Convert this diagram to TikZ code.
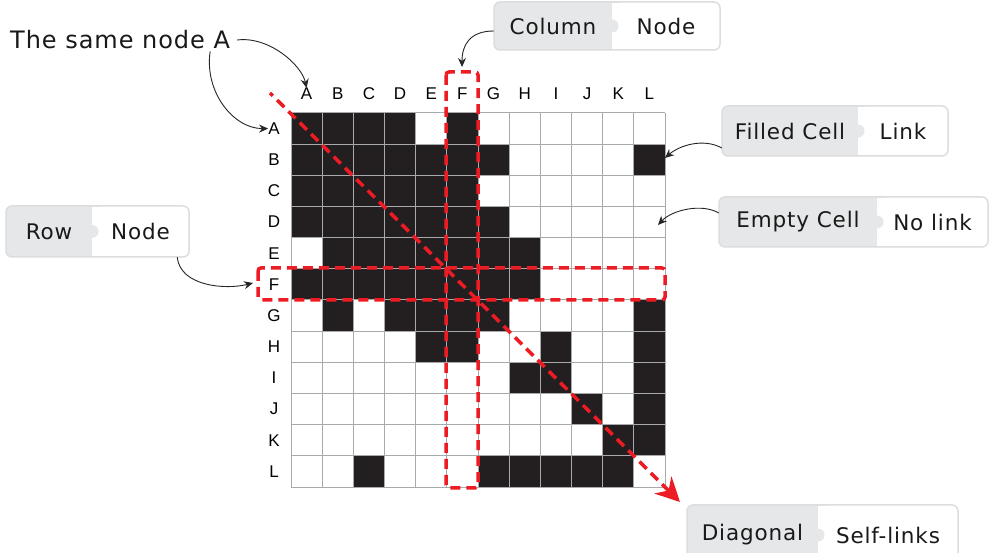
\documentclass[tikz,border=0pt]{standalone}
\usepackage{fontspec}
\setmainfont{Liberation Sans}
\newfontfamily\handfont[LetterSpace=4]{DejaVu Sans}
\usetikzlibrary{arrows.meta}
\definecolor{cellblack}{HTML}{231F20}
\definecolor{gridgray}{HTML}{A7A9AC}
\definecolor{hlred}{HTML}{ED1C24}
\definecolor{calloutgray}{HTML}{E6E7E8}
\definecolor{calloutborder}{HTML}{DCDDDE}
\tikzset{
  hl/.style={draw=hlred, line width=3.5pt, dash pattern=on 10pt off 6pt},
  hdr/.style={font=\fontsize{17}{19}\selectfont, inner sep=0pt},
  handtext/.style={font=\handfont\fontsize{21.5}{25}\selectfont, inner sep=0pt, text=black!90},
  bighand/.style={font=\handfont\fontsize{24}{28}\selectfont, inner sep=0pt, text=black!90},
  conn/.style={draw=black!85, line width=0.9pt, -{Stealth[length=9pt,width=8pt]}},
  cellfill/.style={fill=cellblack},
  gridline/.style={draw=gridgray, line width=1pt}
}
% name, x0, y0, x1, y1, xm, left text, right text
\newcommand\mycallout[8]{%
  \fill[white,rounded corners=6pt] (#2,#3) rectangle (#4,#5);
  \fill[calloutgray,rounded corners=6pt] (#2,#3) rectangle (#6+12,#5);
  \fill[white] (#6,#3+1) rectangle (#6+13,#5-1);
  \fill[calloutgray] (#6,{(#3+#5)/2}) circle (6.5);
  \draw[calloutborder,line width=1.5pt,rounded corners=6pt] (#2,#3) rectangle (#4,#5);
  \node[inner sep=0pt, minimum width={#4-#2}, minimum height={#5-#3}] (#1) at ({(#2+#4)/2},{(#3+#5)/2}) {};
  \node[handtext] (#1-l) at ({(#2+#6)/2},{(#3+#5)/2}) {#7};
  \node[handtext] (#1-r) at ({(#6+#4)/2},{(#3+#5)/2}) {#8};
}
\begin{document}
\begin{tikzpicture}[x=1pt,y=-1pt]
\useasboundingbox (0,0) rectangle (989,553);
\fill[white] (0,0) rectangle (989,553);
\def\cs{31.1667}
% filled cells
\foreach \r/\cols in {0/{0,1,2,3,5}, 1/{0,1,2,3,4,5,6,11}, 2/{0,1,2,3,4,5},
  3/{0,1,2,3,4,5,6}, 4/{1,2,3,4,5,6,7}, 5/{0,1,2,3,4,5,6,7}, 6/{1,3,4,5,6,11},
  7/{4,5,8,11}, 8/{7,8,11}, 9/{9,11}, 10/{10,11}, 11/{2,6,7,8,9,10}}{
  \foreach \c in \cols {
    \fill[cellfill] ({291+\c*\cs},{113+\r*\cs}) rectangle +(\cs,\cs);
  }
}
% grid
\foreach \i in {0,...,12}{
  \draw[gridline] ({291+\i*\cs},113) -- ({291+\i*\cs},487);
  \draw[gridline] (291,{113+\i*\cs}) -- (665,{113+\i*\cs});
}
% headers
\foreach \l [count=\i from 0] in {A,B,C,D,E,F,G,H,I,J,K,L}{
  \node[hdr] (h\l) at ({291+(\i+0.5)*\cs},94) {\l};
  \node[hdr] (r\l) at (274,{113+(\i+0.5)*\cs}) {\l};
}
% red highlights
\draw[hl, rounded corners=3pt] (446,72) rectangle (478,488);
\draw[hl, rounded corners=3pt] (258,268) rectangle (665,300);
\coordinate (diagStart) at (270,93);
\coordinate (diagEnd) at (680,502);
\draw[hl, dash phase=6pt, -{Stealth[length=24pt,width=24pt]}] (diagStart) -- (diagEnd);
\coordinate (colTop) at (462,67);
\coordinate (rowLeft) at (253,283);
\coordinate (cellBL) at (665,158);
\coordinate (cellDL) at (658,225);
% callouts
\mycallout{colbox}{494}{2}{720}{50}{612}{Column}{Node}
\mycallout{filledbox}{722}{106}{948}{156}{858}{Filled Cell}{Link}
\mycallout{emptybox}{719}{197}{988}{247}{877}{Empty Cell}{No link}
\mycallout{rowbox}{6}{206}{189}{257}{92}{Row}{Node}
\mycallout{diagbox}{687}{505}{958}{565}{818}{Diagonal}{Self-links}
\node[bighand, anchor=west] (same) at (10,40) {The same node A};
% connectors
\draw[conn] ([xshift=7pt]same.east) .. controls +(32,-4) and +(-5,-23) .. (hA.north);
\draw[conn] ([xshift=-20pt,yshift=-2pt]same.south east) .. controls +(-6,40) and +(-35,0) .. (rA.west);
\draw[conn] ([yshift=-5pt]colbox.west) .. controls +(-24,0) and +(0,-22) .. (colTop);
\draw[conn] ([yshift=-17pt]filledbox.west) .. controls +(-18,-10) and +(15,-13) .. (cellBL);
\draw[conn] ([yshift=9pt]emptybox.west) .. controls +(-17,-10) and +(14,-15) .. (cellDL);
\draw[conn] ([xshift=-12pt]rowbox.south east) .. controls +(3,29) and +(-28,7) .. (rowLeft);
\end{tikzpicture}
\end{document}
